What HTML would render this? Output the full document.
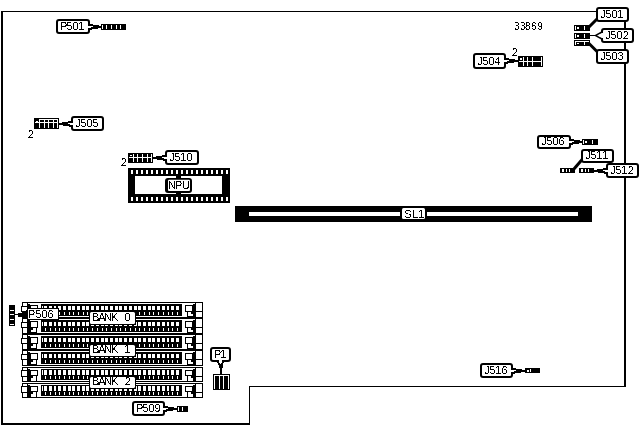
<!DOCTYPE html>
<html lang="en">
<head>
<meta charset="utf-8">
<title>Board layout 33869</title>
<style>
html,body{margin:0;padding:0;background:#fff;}
body{width:643px;height:425px;overflow:hidden;}
svg{display:block;shape-rendering:crispEdges;}
svg .aa{shape-rendering:geometricPrecision;}
svg text{font-family:"Liberation Sans",Arial,Helvetica,sans-serif;fill:#000;text-rendering:optimizeSpeed;}
svg text.s{letter-spacing:0;}
</style>
</head>
<body>
<svg width="643" height="425" viewBox="0 0 643 425">
<defs><filter id="bw" filterUnits="userSpaceOnUse" x="0" y="0" width="643" height="425" color-interpolation-filters="sRGB"><feComponentTransfer><feFuncA type="discrete" tableValues="0 1"/></feComponentTransfer></filter></defs>
<rect x="0" y="0" width="643" height="425" fill="#fff"/>
<rect x="1" y="11" width="625" height="1" fill="#000"/>
<rect x="1" y="11" width="2" height="414" fill="#000"/>
<rect x="1" y="423" width="249" height="2" fill="#000"/>
<rect x="249" y="386" width="1" height="39" fill="#000"/>
<rect x="249" y="386" width="377" height="1" fill="#000"/>
<rect x="624" y="11" width="2" height="376" fill="#000"/>
<rect class="aa" x="56" y="19" width="34" height="15" rx="3" ry="3" fill="#000"/>
<rect class="aa" x="58" y="21" width="30" height="11" rx="1" ry="1" fill="#fff"/>
<rect x="88" y="24" width="5" height="1" fill="#000"/>
<rect x="88" y="25" width="11" height="1" fill="#000"/>
<rect x="88" y="26" width="5" height="1" fill="#fff"/>
<rect x="93" y="26" width="8" height="1" fill="#000"/>
<rect x="88" y="27" width="3" height="1" fill="#fff"/>
<rect x="91" y="27" width="10" height="1" fill="#000"/>
<rect x="88" y="28" width="10" height="1" fill="#000"/>
<rect x="88" y="29" width="4" height="1" fill="#000"/>
<rect x="101" y="24" width="25" height="6" fill="#000"/>
<rect x="102" y="25" width="1" height="4" fill="#fff"/>
<rect x="106" y="25" width="1" height="4" fill="#fff"/>
<rect x="111" y="25" width="1" height="4" fill="#fff"/>
<rect x="116" y="25" width="1" height="4" fill="#fff"/>
<rect x="120" y="25" width="1" height="4" fill="#fff"/>
<rect x="34" y="118" width="25" height="11" fill="#000"/>
<rect x="39" y="119" width="1" height="9" fill="#fff"/>
<rect x="44" y="119" width="1" height="9" fill="#fff"/>
<rect x="48" y="119" width="1" height="9" fill="#fff"/>
<rect x="53" y="119" width="1" height="9" fill="#fff"/>
<rect x="57" y="119" width="1" height="9" fill="#fff"/>
<rect x="39" y="119" width="19" height="1" fill="#fff"/>
<rect x="35" y="122" width="23" height="1" fill="#fff"/>
<rect x="36" y="121" width="2" height="1" fill="#fff"/>
<rect class="aa" x="71" y="116" width="33" height="15" rx="3" ry="3" fill="#000"/>
<rect class="aa" x="73" y="118" width="29" height="11" rx="1" ry="1" fill="#fff"/>
<rect x="68" y="121" width="5" height="1" fill="#000"/>
<rect x="62" y="122" width="11" height="1" fill="#000"/>
<rect x="68" y="123" width="5" height="1" fill="#fff"/>
<rect x="59" y="123" width="9" height="1" fill="#000"/>
<rect x="70" y="124" width="3" height="1" fill="#fff"/>
<rect x="59" y="124" width="11" height="1" fill="#000"/>
<rect x="63" y="125" width="10" height="1" fill="#000"/>
<rect x="69" y="126" width="4" height="1" fill="#000"/>
<rect x="128" y="153" width="25" height="10" fill="#000"/>
<rect x="133" y="154" width="1" height="8" fill="#fff"/>
<rect x="137" y="154" width="1" height="8" fill="#fff"/>
<rect x="142" y="154" width="1" height="8" fill="#fff"/>
<rect x="147" y="154" width="1" height="8" fill="#fff"/>
<rect x="151" y="154" width="1" height="8" fill="#fff"/>
<rect x="129" y="157" width="23" height="1" fill="#fff"/>
<rect x="130" y="155" width="2" height="1" fill="#fff"/>
<rect class="aa" x="165" y="150" width="34" height="15" rx="3" ry="3" fill="#000"/>
<rect class="aa" x="167" y="152" width="30" height="11" rx="1" ry="1" fill="#fff"/>
<rect x="162" y="155" width="5" height="1" fill="#000"/>
<rect x="156" y="156" width="11" height="1" fill="#000"/>
<rect x="162" y="157" width="5" height="1" fill="#fff"/>
<rect x="153" y="157" width="9" height="1" fill="#000"/>
<rect x="164" y="158" width="3" height="1" fill="#fff"/>
<rect x="153" y="158" width="11" height="1" fill="#000"/>
<rect x="157" y="159" width="10" height="1" fill="#000"/>
<rect x="163" y="160" width="4" height="1" fill="#000"/>
<rect class="aa" x="473" y="53" width="33" height="16" rx="3" ry="3" fill="#000"/>
<rect class="aa" x="475" y="55" width="29" height="12" rx="1" ry="1" fill="#fff"/>
<rect x="504" y="58" width="5" height="1" fill="#000"/>
<rect x="504" y="59" width="11" height="1" fill="#000"/>
<rect x="504" y="60" width="5" height="1" fill="#fff"/>
<rect x="509" y="60" width="9" height="1" fill="#000"/>
<rect x="504" y="61" width="3" height="1" fill="#fff"/>
<rect x="507" y="61" width="11" height="1" fill="#000"/>
<rect x="504" y="62" width="10" height="1" fill="#000"/>
<rect x="504" y="63" width="4" height="1" fill="#000"/>
<rect x="518" y="56" width="25" height="11" fill="#000"/>
<rect x="523" y="57" width="1" height="9" fill="#fff"/>
<rect x="527" y="57" width="1" height="9" fill="#fff"/>
<rect x="532" y="57" width="1" height="9" fill="#fff"/>
<rect x="541" y="57" width="1" height="9" fill="#fff"/>
<rect x="519" y="61" width="23" height="1" fill="#fff"/>
<rect x="520" y="58" width="2" height="2" fill="#fff"/>
<rect x="574" y="25" width="16" height="6" fill="#000"/>
<rect x="575" y="26" width="1" height="4" fill="#fff"/>
<rect x="577" y="27" width="2" height="2" fill="#fff"/>
<rect x="584" y="26" width="1" height="4" fill="#fff"/>
<rect x="574" y="33" width="16" height="6" fill="#000"/>
<rect x="575" y="34" width="1" height="4" fill="#fff"/>
<rect x="577" y="35" width="2" height="2" fill="#fff"/>
<rect x="584" y="34" width="1" height="4" fill="#fff"/>
<rect x="574" y="40" width="16" height="6" fill="#000"/>
<rect x="575" y="41" width="14" height="1" fill="#fff"/>
<rect x="575" y="41" width="1" height="4" fill="#fff"/>
<rect x="577" y="43" width="2" height="1" fill="#fff"/>
<rect x="584" y="42" width="1" height="3" fill="#fff"/>
<path class="aa" d="M588.5 27.5 L597 19" stroke="#000" stroke-width="3" fill="none"/>
<path class="aa" d="M588.5 43 L597 51.5" stroke="#000" stroke-width="3" fill="none"/>
<rect class="aa" x="596" y="7" width="33" height="15" rx="3" ry="3" fill="#000"/>
<rect class="aa" x="598" y="9" width="29" height="11" rx="1" ry="1" fill="#fff"/>
<rect class="aa" x="596" y="49" width="33" height="15" rx="3" ry="3" fill="#000"/>
<rect class="aa" x="598" y="51" width="29" height="11" rx="1" ry="1" fill="#fff"/>
<rect class="aa" x="601" y="28" width="33" height="15" rx="3" ry="3" fill="#000"/>
<rect class="aa" x="603" y="30" width="29" height="11" rx="1" ry="1" fill="#fff"/>
<rect x="601" y="33" width="3" height="5" fill="#fff"/>
<rect x="590" y="35" width="6" height="1" fill="#000"/>
<path class="aa" d="M594 35.5 L602 31 L602 33 L597 35.5 L602 38 L602 40 Z" fill="#000"/>
<path class="aa" d="M597.6 35.5 L603 32.9 L603 38.1 Z" fill="#fff"/>
<rect class="aa" x="537" y="135" width="34" height="14" rx="3" ry="3" fill="#000"/>
<rect class="aa" x="539" y="137" width="30" height="10" rx="1" ry="1" fill="#fff"/>
<rect x="569" y="139" width="5" height="1" fill="#000"/>
<rect x="569" y="140" width="11" height="1" fill="#000"/>
<rect x="569" y="141" width="5" height="1" fill="#fff"/>
<rect x="574" y="141" width="8" height="1" fill="#000"/>
<rect x="569" y="142" width="3" height="1" fill="#fff"/>
<rect x="572" y="142" width="10" height="1" fill="#000"/>
<rect x="569" y="143" width="10" height="1" fill="#000"/>
<rect x="569" y="144" width="4" height="1" fill="#000"/>
<rect x="582" y="139" width="16" height="6" fill="#000"/>
<rect x="583" y="140" width="1" height="4" fill="#fff"/>
<rect x="585" y="141" width="2" height="2" fill="#fff"/>
<rect x="592" y="140" width="1" height="4" fill="#fff"/>
<rect x="560" y="168" width="15" height="5" fill="#000"/>
<rect x="562" y="169" width="2" height="3" fill="#fff"/>
<rect x="566" y="169" width="1" height="3" fill="#fff"/>
<rect x="569" y="169" width="1" height="3" fill="#fff"/>
<rect x="579" y="168" width="15" height="5" fill="#000"/>
<rect x="581" y="169" width="2" height="3" fill="#fff"/>
<rect x="585" y="169" width="1" height="3" fill="#fff"/>
<rect x="588" y="169" width="1" height="3" fill="#fff"/>
<path class="aa" d="M573.5 169.5 L583 158.5" stroke="#000" stroke-width="3" fill="none"/>
<rect class="aa" x="581" y="149" width="33" height="14" rx="3" ry="3" fill="#000"/>
<rect class="aa" x="583" y="151" width="29" height="10" rx="1" ry="1" fill="#fff"/>
<rect class="aa" x="606" y="163" width="33" height="15" rx="3" ry="3" fill="#000"/>
<rect class="aa" x="608" y="165" width="29" height="11" rx="1" ry="1" fill="#fff"/>
<rect x="603" y="168" width="5" height="1" fill="#000"/>
<rect x="597" y="169" width="11" height="1" fill="#000"/>
<rect x="603" y="170" width="5" height="1" fill="#fff"/>
<rect x="594" y="170" width="9" height="1" fill="#000"/>
<rect x="605" y="171" width="3" height="1" fill="#fff"/>
<rect x="594" y="171" width="11" height="1" fill="#000"/>
<rect x="598" y="172" width="10" height="1" fill="#000"/>
<rect x="604" y="173" width="4" height="1" fill="#000"/>
<rect x="128" y="168" width="102" height="35" fill="#000"/>
<rect x="135" y="176" width="87" height="18" fill="#fff"/>
<rect x="130.6" y="170" width="2.6" height="4" fill="#fff"/>
<rect x="130.6" y="197" width="2.6" height="4" fill="#fff"/>
<rect x="135.6" y="170" width="2.6" height="4" fill="#fff"/>
<rect x="135.6" y="197" width="2.6" height="4" fill="#fff"/>
<rect x="140.6" y="170" width="2.6" height="4" fill="#fff"/>
<rect x="140.6" y="197" width="2.6" height="4" fill="#fff"/>
<rect x="145.6" y="170" width="2.6" height="4" fill="#fff"/>
<rect x="145.6" y="197" width="2.6" height="4" fill="#fff"/>
<rect x="150.6" y="170" width="2.6" height="4" fill="#fff"/>
<rect x="150.6" y="197" width="2.6" height="4" fill="#fff"/>
<rect x="155.6" y="170" width="2.6" height="4" fill="#fff"/>
<rect x="155.6" y="197" width="2.6" height="4" fill="#fff"/>
<rect x="160.6" y="170" width="2.6" height="4" fill="#fff"/>
<rect x="160.6" y="197" width="2.6" height="4" fill="#fff"/>
<rect x="165.6" y="170" width="2.6" height="4" fill="#fff"/>
<rect x="165.6" y="197" width="2.6" height="4" fill="#fff"/>
<rect x="170.6" y="170" width="2.6" height="4" fill="#fff"/>
<rect x="170.6" y="197" width="2.6" height="4" fill="#fff"/>
<rect x="175.6" y="170" width="2.6" height="4" fill="#fff"/>
<rect x="175.6" y="197" width="2.6" height="4" fill="#fff"/>
<rect x="180.6" y="170" width="2.6" height="4" fill="#fff"/>
<rect x="180.6" y="197" width="2.6" height="4" fill="#fff"/>
<rect x="185.6" y="170" width="2.6" height="4" fill="#fff"/>
<rect x="185.6" y="197" width="2.6" height="4" fill="#fff"/>
<rect x="190.6" y="170" width="2.6" height="4" fill="#fff"/>
<rect x="190.6" y="197" width="2.6" height="4" fill="#fff"/>
<rect x="195.6" y="170" width="2.6" height="4" fill="#fff"/>
<rect x="195.6" y="197" width="2.6" height="4" fill="#fff"/>
<rect x="200.6" y="170" width="2.6" height="4" fill="#fff"/>
<rect x="200.6" y="197" width="2.6" height="4" fill="#fff"/>
<rect x="205.6" y="170" width="2.6" height="4" fill="#fff"/>
<rect x="205.6" y="197" width="2.6" height="4" fill="#fff"/>
<rect x="210.6" y="170" width="2.6" height="4" fill="#fff"/>
<rect x="210.6" y="197" width="2.6" height="4" fill="#fff"/>
<rect x="215.6" y="170" width="2.6" height="4" fill="#fff"/>
<rect x="215.6" y="197" width="2.6" height="4" fill="#fff"/>
<rect x="220.6" y="170" width="2.6" height="4" fill="#fff"/>
<rect x="220.6" y="197" width="2.6" height="4" fill="#fff"/>
<rect x="225.6" y="170" width="2.6" height="4" fill="#fff"/>
<rect x="225.6" y="197" width="2.6" height="4" fill="#fff"/>
<rect x="176" y="174" width="5" height="23" fill="#000"/>
<rect class="aa" x="165" y="178" width="27" height="15" rx="3" fill="#000"/>
<rect class="aa" x="168" y="179.7" width="22" height="11.3" rx="1" fill="#fff"/>
<rect x="235" y="206" width="357" height="16" fill="#000"/>
<rect x="249" y="212" width="329" height="4" fill="#fff"/>
<rect x="400" y="207" width="27" height="14" fill="#000"/>
<rect class="aa" x="402" y="208" width="23" height="11" rx="1.5" fill="#fff"/>
<rect x="22" y="302" width="181" height="1" fill="#000"/>
<rect x="22" y="317" width="181" height="1" fill="#000"/>
<rect x="22" y="302" width="1" height="16" fill="#000"/>
<rect x="202" y="302" width="1" height="16" fill="#000"/>
<rect x="27" y="302" width="3" height="16" fill="#000"/>
<rect x="28" y="303" width="2" height="1" fill="#fff"/>
<rect x="21" y="306" width="7" height="1" fill="#000"/>
<rect x="21" y="311" width="7" height="1" fill="#000"/>
<rect x="21" y="306" width="1" height="6" fill="#000"/>
<rect x="22" y="307" width="1" height="4" fill="#fff"/>
<rect x="30" y="305" width="8" height="7" fill="#000"/>
<rect x="31" y="306" width="6" height="5" fill="#fff"/>
<rect x="30" y="311" width="7" height="6" fill="#000"/>
<rect x="33" y="312" width="3" height="2" fill="#fff"/>
<rect x="31" y="314" width="5" height="2" fill="#fff"/>
<rect x="193" y="302" width="3" height="16" fill="#000"/>
<rect x="193" y="303" width="2" height="1" fill="#fff"/>
<rect x="195" y="311" width="8" height="1" fill="#000"/>
<rect x="185" y="305" width="8" height="7" fill="#000"/>
<rect x="186" y="306" width="6" height="5" fill="#fff"/>
<rect x="187" y="311" width="7" height="6" fill="#000"/>
<rect x="188" y="312" width="3" height="2" fill="#fff"/>
<rect x="188" y="314" width="5" height="2" fill="#fff"/>
<rect x="41" y="304" width="141" height="12" rx="1.5" ry="1.5" fill="#000"/>
<rect x="42" y="306" width="1" height="4" fill="#fff"/>
<rect x="44.1" y="306" width="2.9" height="4" fill="#fff"/>
<rect x="45" y="312" width="1" height="3" fill="#fff"/>
<rect x="48.8107" y="306" width="2.9" height="4" fill="#fff"/>
<rect x="50" y="312" width="1" height="3" fill="#fff"/>
<rect x="53.5214" y="306" width="2.9" height="4" fill="#fff"/>
<rect x="55" y="312" width="1" height="3" fill="#fff"/>
<rect x="58.2321" y="306" width="2.9" height="4" fill="#fff"/>
<rect x="59" y="312" width="1" height="3" fill="#fff"/>
<rect x="62.9429" y="306" width="2.9" height="4" fill="#fff"/>
<rect x="64" y="312" width="1" height="3" fill="#fff"/>
<rect x="67.6536" y="306" width="2.9" height="4" fill="#fff"/>
<rect x="69" y="312" width="1" height="3" fill="#fff"/>
<rect x="72.3643" y="306" width="2.9" height="4" fill="#fff"/>
<rect x="73" y="312" width="1" height="3" fill="#fff"/>
<rect x="77.075" y="306" width="2.9" height="4" fill="#fff"/>
<rect x="78" y="312" width="1" height="3" fill="#fff"/>
<rect x="81.7857" y="306" width="2.9" height="4" fill="#fff"/>
<rect x="83" y="312" width="1" height="3" fill="#fff"/>
<rect x="86.4964" y="306" width="2.9" height="4" fill="#fff"/>
<rect x="87" y="312" width="1" height="3" fill="#fff"/>
<rect x="91.2071" y="306" width="2.9" height="4" fill="#fff"/>
<rect x="92" y="312" width="1" height="3" fill="#fff"/>
<rect x="95.9179" y="306" width="2.9" height="4" fill="#fff"/>
<rect x="97" y="312" width="1" height="3" fill="#fff"/>
<rect x="100.629" y="306" width="2.9" height="4" fill="#fff"/>
<rect x="102" y="312" width="1" height="3" fill="#fff"/>
<rect x="105.339" y="306" width="2.9" height="4" fill="#fff"/>
<rect x="106" y="312" width="1" height="3" fill="#fff"/>
<rect x="110.05" y="306" width="2.9" height="4" fill="#fff"/>
<rect x="111" y="312" width="1" height="3" fill="#fff"/>
<rect x="114.761" y="306" width="2.9" height="4" fill="#fff"/>
<rect x="116" y="312" width="1" height="3" fill="#fff"/>
<rect x="119.471" y="306" width="2.9" height="4" fill="#fff"/>
<rect x="120" y="312" width="1" height="3" fill="#fff"/>
<rect x="124.182" y="306" width="2.9" height="4" fill="#fff"/>
<rect x="125" y="312" width="1" height="3" fill="#fff"/>
<rect x="128.893" y="306" width="2.9" height="4" fill="#fff"/>
<rect x="130" y="312" width="1" height="3" fill="#fff"/>
<rect x="133.604" y="306" width="2.9" height="4" fill="#fff"/>
<rect x="135" y="312" width="1" height="3" fill="#fff"/>
<rect x="138.314" y="306" width="2.9" height="4" fill="#fff"/>
<rect x="139" y="312" width="1" height="3" fill="#fff"/>
<rect x="143.025" y="306" width="2.9" height="4" fill="#fff"/>
<rect x="144" y="312" width="1" height="3" fill="#fff"/>
<rect x="147.736" y="306" width="2.9" height="4" fill="#fff"/>
<rect x="149" y="312" width="1" height="3" fill="#fff"/>
<rect x="152.446" y="306" width="2.9" height="4" fill="#fff"/>
<rect x="153" y="312" width="1" height="3" fill="#fff"/>
<rect x="157.157" y="306" width="2.9" height="4" fill="#fff"/>
<rect x="158" y="312" width="1" height="3" fill="#fff"/>
<rect x="161.868" y="306" width="2.9" height="4" fill="#fff"/>
<rect x="163" y="312" width="1" height="3" fill="#fff"/>
<rect x="166.579" y="306" width="2.9" height="4" fill="#fff"/>
<rect x="168" y="312" width="1" height="3" fill="#fff"/>
<rect x="171.289" y="306" width="2.9" height="4" fill="#fff"/>
<rect x="172" y="312" width="1" height="3" fill="#fff"/>
<rect x="176" y="306" width="2.9" height="4" fill="#fff"/>
<rect x="177" y="312" width="1" height="3" fill="#fff"/>
<rect x="22" y="318" width="181" height="1" fill="#000"/>
<rect x="22" y="333" width="181" height="1" fill="#000"/>
<rect x="22" y="318" width="1" height="16" fill="#000"/>
<rect x="202" y="318" width="1" height="16" fill="#000"/>
<rect x="27" y="318" width="3" height="16" fill="#000"/>
<rect x="28" y="319" width="2" height="1" fill="#fff"/>
<rect x="21" y="322" width="7" height="1" fill="#000"/>
<rect x="21" y="327" width="7" height="1" fill="#000"/>
<rect x="21" y="322" width="1" height="6" fill="#000"/>
<rect x="22" y="323" width="1" height="4" fill="#fff"/>
<rect x="30" y="321" width="8" height="7" fill="#000"/>
<rect x="31" y="322" width="6" height="5" fill="#fff"/>
<rect x="30" y="327" width="7" height="6" fill="#000"/>
<rect x="33" y="328" width="3" height="2" fill="#fff"/>
<rect x="31" y="330" width="5" height="2" fill="#fff"/>
<rect x="193" y="318" width="3" height="16" fill="#000"/>
<rect x="193" y="319" width="2" height="1" fill="#fff"/>
<rect x="195" y="327" width="8" height="1" fill="#000"/>
<rect x="185" y="321" width="8" height="7" fill="#000"/>
<rect x="186" y="322" width="6" height="5" fill="#fff"/>
<rect x="187" y="327" width="7" height="6" fill="#000"/>
<rect x="188" y="328" width="3" height="2" fill="#fff"/>
<rect x="188" y="330" width="5" height="2" fill="#fff"/>
<rect x="41" y="320" width="141" height="12" rx="1.5" ry="1.5" fill="#000"/>
<rect x="42" y="322" width="1" height="4" fill="#fff"/>
<rect x="44.1" y="322" width="2.9" height="4" fill="#fff"/>
<rect x="45" y="328" width="1" height="3" fill="#fff"/>
<rect x="48.8107" y="322" width="2.9" height="4" fill="#fff"/>
<rect x="50" y="328" width="1" height="3" fill="#fff"/>
<rect x="53.5214" y="322" width="2.9" height="4" fill="#fff"/>
<rect x="55" y="328" width="1" height="3" fill="#fff"/>
<rect x="58.2321" y="322" width="2.9" height="4" fill="#fff"/>
<rect x="59" y="328" width="1" height="3" fill="#fff"/>
<rect x="62.9429" y="322" width="2.9" height="4" fill="#fff"/>
<rect x="64" y="328" width="1" height="3" fill="#fff"/>
<rect x="67.6536" y="322" width="2.9" height="4" fill="#fff"/>
<rect x="69" y="328" width="1" height="3" fill="#fff"/>
<rect x="72.3643" y="322" width="2.9" height="4" fill="#fff"/>
<rect x="73" y="328" width="1" height="3" fill="#fff"/>
<rect x="77.075" y="322" width="2.9" height="4" fill="#fff"/>
<rect x="78" y="328" width="1" height="3" fill="#fff"/>
<rect x="81.7857" y="322" width="2.9" height="4" fill="#fff"/>
<rect x="83" y="328" width="1" height="3" fill="#fff"/>
<rect x="86.4964" y="322" width="2.9" height="4" fill="#fff"/>
<rect x="87" y="328" width="1" height="3" fill="#fff"/>
<rect x="91.2071" y="322" width="2.9" height="4" fill="#fff"/>
<rect x="92" y="328" width="1" height="3" fill="#fff"/>
<rect x="95.9179" y="322" width="2.9" height="4" fill="#fff"/>
<rect x="97" y="328" width="1" height="3" fill="#fff"/>
<rect x="100.629" y="322" width="2.9" height="4" fill="#fff"/>
<rect x="102" y="328" width="1" height="3" fill="#fff"/>
<rect x="105.339" y="322" width="2.9" height="4" fill="#fff"/>
<rect x="106" y="328" width="1" height="3" fill="#fff"/>
<rect x="110.05" y="322" width="2.9" height="4" fill="#fff"/>
<rect x="111" y="328" width="1" height="3" fill="#fff"/>
<rect x="114.761" y="322" width="2.9" height="4" fill="#fff"/>
<rect x="116" y="328" width="1" height="3" fill="#fff"/>
<rect x="119.471" y="322" width="2.9" height="4" fill="#fff"/>
<rect x="120" y="328" width="1" height="3" fill="#fff"/>
<rect x="124.182" y="322" width="2.9" height="4" fill="#fff"/>
<rect x="125" y="328" width="1" height="3" fill="#fff"/>
<rect x="128.893" y="322" width="2.9" height="4" fill="#fff"/>
<rect x="130" y="328" width="1" height="3" fill="#fff"/>
<rect x="133.604" y="322" width="2.9" height="4" fill="#fff"/>
<rect x="135" y="328" width="1" height="3" fill="#fff"/>
<rect x="138.314" y="322" width="2.9" height="4" fill="#fff"/>
<rect x="139" y="328" width="1" height="3" fill="#fff"/>
<rect x="143.025" y="322" width="2.9" height="4" fill="#fff"/>
<rect x="144" y="328" width="1" height="3" fill="#fff"/>
<rect x="147.736" y="322" width="2.9" height="4" fill="#fff"/>
<rect x="149" y="328" width="1" height="3" fill="#fff"/>
<rect x="152.446" y="322" width="2.9" height="4" fill="#fff"/>
<rect x="153" y="328" width="1" height="3" fill="#fff"/>
<rect x="157.157" y="322" width="2.9" height="4" fill="#fff"/>
<rect x="158" y="328" width="1" height="3" fill="#fff"/>
<rect x="161.868" y="322" width="2.9" height="4" fill="#fff"/>
<rect x="163" y="328" width="1" height="3" fill="#fff"/>
<rect x="166.579" y="322" width="2.9" height="4" fill="#fff"/>
<rect x="168" y="328" width="1" height="3" fill="#fff"/>
<rect x="171.289" y="322" width="2.9" height="4" fill="#fff"/>
<rect x="172" y="328" width="1" height="3" fill="#fff"/>
<rect x="176" y="322" width="2.9" height="4" fill="#fff"/>
<rect x="177" y="328" width="1" height="3" fill="#fff"/>
<rect x="22" y="334" width="181" height="1" fill="#000"/>
<rect x="22" y="349" width="181" height="1" fill="#000"/>
<rect x="22" y="334" width="1" height="16" fill="#000"/>
<rect x="202" y="334" width="1" height="16" fill="#000"/>
<rect x="27" y="334" width="3" height="16" fill="#000"/>
<rect x="28" y="335" width="2" height="1" fill="#fff"/>
<rect x="21" y="338" width="7" height="1" fill="#000"/>
<rect x="21" y="343" width="7" height="1" fill="#000"/>
<rect x="21" y="338" width="1" height="6" fill="#000"/>
<rect x="22" y="339" width="1" height="4" fill="#fff"/>
<rect x="30" y="337" width="8" height="7" fill="#000"/>
<rect x="31" y="338" width="6" height="5" fill="#fff"/>
<rect x="30" y="343" width="7" height="6" fill="#000"/>
<rect x="33" y="344" width="3" height="2" fill="#fff"/>
<rect x="31" y="346" width="5" height="2" fill="#fff"/>
<rect x="193" y="334" width="3" height="16" fill="#000"/>
<rect x="193" y="335" width="2" height="1" fill="#fff"/>
<rect x="195" y="343" width="8" height="1" fill="#000"/>
<rect x="185" y="337" width="8" height="7" fill="#000"/>
<rect x="186" y="338" width="6" height="5" fill="#fff"/>
<rect x="187" y="343" width="7" height="6" fill="#000"/>
<rect x="188" y="344" width="3" height="2" fill="#fff"/>
<rect x="188" y="346" width="5" height="2" fill="#fff"/>
<rect x="41" y="336" width="141" height="12" rx="1.5" ry="1.5" fill="#000"/>
<rect x="42" y="338" width="1" height="4" fill="#fff"/>
<rect x="44.1" y="338" width="2.9" height="4" fill="#fff"/>
<rect x="45" y="344" width="1" height="3" fill="#fff"/>
<rect x="48.8107" y="338" width="2.9" height="4" fill="#fff"/>
<rect x="50" y="344" width="1" height="3" fill="#fff"/>
<rect x="53.5214" y="338" width="2.9" height="4" fill="#fff"/>
<rect x="55" y="344" width="1" height="3" fill="#fff"/>
<rect x="58.2321" y="338" width="2.9" height="4" fill="#fff"/>
<rect x="59" y="344" width="1" height="3" fill="#fff"/>
<rect x="62.9429" y="338" width="2.9" height="4" fill="#fff"/>
<rect x="64" y="344" width="1" height="3" fill="#fff"/>
<rect x="67.6536" y="338" width="2.9" height="4" fill="#fff"/>
<rect x="69" y="344" width="1" height="3" fill="#fff"/>
<rect x="72.3643" y="338" width="2.9" height="4" fill="#fff"/>
<rect x="73" y="344" width="1" height="3" fill="#fff"/>
<rect x="77.075" y="338" width="2.9" height="4" fill="#fff"/>
<rect x="78" y="344" width="1" height="3" fill="#fff"/>
<rect x="81.7857" y="338" width="2.9" height="4" fill="#fff"/>
<rect x="83" y="344" width="1" height="3" fill="#fff"/>
<rect x="86.4964" y="338" width="2.9" height="4" fill="#fff"/>
<rect x="87" y="344" width="1" height="3" fill="#fff"/>
<rect x="91.2071" y="338" width="2.9" height="4" fill="#fff"/>
<rect x="92" y="344" width="1" height="3" fill="#fff"/>
<rect x="95.9179" y="338" width="2.9" height="4" fill="#fff"/>
<rect x="97" y="344" width="1" height="3" fill="#fff"/>
<rect x="100.629" y="338" width="2.9" height="4" fill="#fff"/>
<rect x="102" y="344" width="1" height="3" fill="#fff"/>
<rect x="105.339" y="338" width="2.9" height="4" fill="#fff"/>
<rect x="106" y="344" width="1" height="3" fill="#fff"/>
<rect x="110.05" y="338" width="2.9" height="4" fill="#fff"/>
<rect x="111" y="344" width="1" height="3" fill="#fff"/>
<rect x="114.761" y="338" width="2.9" height="4" fill="#fff"/>
<rect x="116" y="344" width="1" height="3" fill="#fff"/>
<rect x="119.471" y="338" width="2.9" height="4" fill="#fff"/>
<rect x="120" y="344" width="1" height="3" fill="#fff"/>
<rect x="124.182" y="338" width="2.9" height="4" fill="#fff"/>
<rect x="125" y="344" width="1" height="3" fill="#fff"/>
<rect x="128.893" y="338" width="2.9" height="4" fill="#fff"/>
<rect x="130" y="344" width="1" height="3" fill="#fff"/>
<rect x="133.604" y="338" width="2.9" height="4" fill="#fff"/>
<rect x="135" y="344" width="1" height="3" fill="#fff"/>
<rect x="138.314" y="338" width="2.9" height="4" fill="#fff"/>
<rect x="139" y="344" width="1" height="3" fill="#fff"/>
<rect x="143.025" y="338" width="2.9" height="4" fill="#fff"/>
<rect x="144" y="344" width="1" height="3" fill="#fff"/>
<rect x="147.736" y="338" width="2.9" height="4" fill="#fff"/>
<rect x="149" y="344" width="1" height="3" fill="#fff"/>
<rect x="152.446" y="338" width="2.9" height="4" fill="#fff"/>
<rect x="153" y="344" width="1" height="3" fill="#fff"/>
<rect x="157.157" y="338" width="2.9" height="4" fill="#fff"/>
<rect x="158" y="344" width="1" height="3" fill="#fff"/>
<rect x="161.868" y="338" width="2.9" height="4" fill="#fff"/>
<rect x="163" y="344" width="1" height="3" fill="#fff"/>
<rect x="166.579" y="338" width="2.9" height="4" fill="#fff"/>
<rect x="168" y="344" width="1" height="3" fill="#fff"/>
<rect x="171.289" y="338" width="2.9" height="4" fill="#fff"/>
<rect x="172" y="344" width="1" height="3" fill="#fff"/>
<rect x="176" y="338" width="2.9" height="4" fill="#fff"/>
<rect x="177" y="344" width="1" height="3" fill="#fff"/>
<rect x="22" y="350" width="181" height="1" fill="#000"/>
<rect x="22" y="365" width="181" height="1" fill="#000"/>
<rect x="22" y="350" width="1" height="16" fill="#000"/>
<rect x="202" y="350" width="1" height="16" fill="#000"/>
<rect x="27" y="350" width="3" height="16" fill="#000"/>
<rect x="28" y="351" width="2" height="1" fill="#fff"/>
<rect x="21" y="354" width="7" height="1" fill="#000"/>
<rect x="21" y="359" width="7" height="1" fill="#000"/>
<rect x="21" y="354" width="1" height="6" fill="#000"/>
<rect x="22" y="355" width="1" height="4" fill="#fff"/>
<rect x="30" y="353" width="8" height="7" fill="#000"/>
<rect x="31" y="354" width="6" height="5" fill="#fff"/>
<rect x="30" y="359" width="7" height="6" fill="#000"/>
<rect x="33" y="360" width="3" height="2" fill="#fff"/>
<rect x="31" y="362" width="5" height="2" fill="#fff"/>
<rect x="193" y="350" width="3" height="16" fill="#000"/>
<rect x="193" y="351" width="2" height="1" fill="#fff"/>
<rect x="195" y="359" width="8" height="1" fill="#000"/>
<rect x="185" y="353" width="8" height="7" fill="#000"/>
<rect x="186" y="354" width="6" height="5" fill="#fff"/>
<rect x="187" y="359" width="7" height="6" fill="#000"/>
<rect x="188" y="360" width="3" height="2" fill="#fff"/>
<rect x="188" y="362" width="5" height="2" fill="#fff"/>
<rect x="41" y="352" width="141" height="12" rx="1.5" ry="1.5" fill="#000"/>
<rect x="42" y="354" width="1" height="4" fill="#fff"/>
<rect x="44.1" y="354" width="2.9" height="4" fill="#fff"/>
<rect x="45" y="360" width="1" height="3" fill="#fff"/>
<rect x="48.8107" y="354" width="2.9" height="4" fill="#fff"/>
<rect x="50" y="360" width="1" height="3" fill="#fff"/>
<rect x="53.5214" y="354" width="2.9" height="4" fill="#fff"/>
<rect x="55" y="360" width="1" height="3" fill="#fff"/>
<rect x="58.2321" y="354" width="2.9" height="4" fill="#fff"/>
<rect x="59" y="360" width="1" height="3" fill="#fff"/>
<rect x="62.9429" y="354" width="2.9" height="4" fill="#fff"/>
<rect x="64" y="360" width="1" height="3" fill="#fff"/>
<rect x="67.6536" y="354" width="2.9" height="4" fill="#fff"/>
<rect x="69" y="360" width="1" height="3" fill="#fff"/>
<rect x="72.3643" y="354" width="2.9" height="4" fill="#fff"/>
<rect x="73" y="360" width="1" height="3" fill="#fff"/>
<rect x="77.075" y="354" width="2.9" height="4" fill="#fff"/>
<rect x="78" y="360" width="1" height="3" fill="#fff"/>
<rect x="81.7857" y="354" width="2.9" height="4" fill="#fff"/>
<rect x="83" y="360" width="1" height="3" fill="#fff"/>
<rect x="86.4964" y="354" width="2.9" height="4" fill="#fff"/>
<rect x="87" y="360" width="1" height="3" fill="#fff"/>
<rect x="91.2071" y="354" width="2.9" height="4" fill="#fff"/>
<rect x="92" y="360" width="1" height="3" fill="#fff"/>
<rect x="95.9179" y="354" width="2.9" height="4" fill="#fff"/>
<rect x="97" y="360" width="1" height="3" fill="#fff"/>
<rect x="100.629" y="354" width="2.9" height="4" fill="#fff"/>
<rect x="102" y="360" width="1" height="3" fill="#fff"/>
<rect x="105.339" y="354" width="2.9" height="4" fill="#fff"/>
<rect x="106" y="360" width="1" height="3" fill="#fff"/>
<rect x="110.05" y="354" width="2.9" height="4" fill="#fff"/>
<rect x="111" y="360" width="1" height="3" fill="#fff"/>
<rect x="114.761" y="354" width="2.9" height="4" fill="#fff"/>
<rect x="116" y="360" width="1" height="3" fill="#fff"/>
<rect x="119.471" y="354" width="2.9" height="4" fill="#fff"/>
<rect x="120" y="360" width="1" height="3" fill="#fff"/>
<rect x="124.182" y="354" width="2.9" height="4" fill="#fff"/>
<rect x="125" y="360" width="1" height="3" fill="#fff"/>
<rect x="128.893" y="354" width="2.9" height="4" fill="#fff"/>
<rect x="130" y="360" width="1" height="3" fill="#fff"/>
<rect x="133.604" y="354" width="2.9" height="4" fill="#fff"/>
<rect x="135" y="360" width="1" height="3" fill="#fff"/>
<rect x="138.314" y="354" width="2.9" height="4" fill="#fff"/>
<rect x="139" y="360" width="1" height="3" fill="#fff"/>
<rect x="143.025" y="354" width="2.9" height="4" fill="#fff"/>
<rect x="144" y="360" width="1" height="3" fill="#fff"/>
<rect x="147.736" y="354" width="2.9" height="4" fill="#fff"/>
<rect x="149" y="360" width="1" height="3" fill="#fff"/>
<rect x="152.446" y="354" width="2.9" height="4" fill="#fff"/>
<rect x="153" y="360" width="1" height="3" fill="#fff"/>
<rect x="157.157" y="354" width="2.9" height="4" fill="#fff"/>
<rect x="158" y="360" width="1" height="3" fill="#fff"/>
<rect x="161.868" y="354" width="2.9" height="4" fill="#fff"/>
<rect x="163" y="360" width="1" height="3" fill="#fff"/>
<rect x="166.579" y="354" width="2.9" height="4" fill="#fff"/>
<rect x="168" y="360" width="1" height="3" fill="#fff"/>
<rect x="171.289" y="354" width="2.9" height="4" fill="#fff"/>
<rect x="172" y="360" width="1" height="3" fill="#fff"/>
<rect x="176" y="354" width="2.9" height="4" fill="#fff"/>
<rect x="177" y="360" width="1" height="3" fill="#fff"/>
<rect x="22" y="367" width="181" height="1" fill="#000"/>
<rect x="22" y="381" width="181" height="1" fill="#000"/>
<rect x="22" y="367" width="1" height="15" fill="#000"/>
<rect x="202" y="367" width="1" height="15" fill="#000"/>
<rect x="27" y="367" width="3" height="15" fill="#000"/>
<rect x="28" y="368" width="2" height="1" fill="#fff"/>
<rect x="21" y="370" width="7" height="1" fill="#000"/>
<rect x="21" y="376" width="7" height="1" fill="#000"/>
<rect x="21" y="370" width="1" height="7" fill="#000"/>
<rect x="22" y="371" width="1" height="5" fill="#fff"/>
<rect x="30" y="370" width="8" height="6" fill="#000"/>
<rect x="31" y="371" width="6" height="4" fill="#fff"/>
<rect x="30" y="375" width="7" height="7" fill="#000"/>
<rect x="33" y="376" width="3" height="2" fill="#fff"/>
<rect x="31" y="378" width="5" height="3" fill="#fff"/>
<rect x="193" y="367" width="3" height="15" fill="#000"/>
<rect x="193" y="368" width="2" height="1" fill="#fff"/>
<rect x="195" y="376" width="8" height="1" fill="#000"/>
<rect x="185" y="370" width="8" height="6" fill="#000"/>
<rect x="186" y="371" width="6" height="4" fill="#fff"/>
<rect x="187" y="375" width="7" height="7" fill="#000"/>
<rect x="188" y="376" width="3" height="2" fill="#fff"/>
<rect x="188" y="378" width="5" height="3" fill="#fff"/>
<rect x="41" y="369" width="141" height="11" rx="1.5" ry="1.5" fill="#000"/>
<rect x="42" y="370" width="1" height="5" fill="#fff"/>
<rect x="44.1" y="370" width="2.9" height="5" fill="#fff"/>
<rect x="45" y="376" width="1" height="3" fill="#fff"/>
<rect x="48.8107" y="370" width="2.9" height="5" fill="#fff"/>
<rect x="50" y="376" width="1" height="3" fill="#fff"/>
<rect x="53.5214" y="370" width="2.9" height="5" fill="#fff"/>
<rect x="55" y="376" width="1" height="3" fill="#fff"/>
<rect x="58.2321" y="370" width="2.9" height="5" fill="#fff"/>
<rect x="59" y="376" width="1" height="3" fill="#fff"/>
<rect x="62.9429" y="370" width="2.9" height="5" fill="#fff"/>
<rect x="64" y="376" width="1" height="3" fill="#fff"/>
<rect x="67.6536" y="370" width="2.9" height="5" fill="#fff"/>
<rect x="69" y="376" width="1" height="3" fill="#fff"/>
<rect x="72.3643" y="370" width="2.9" height="5" fill="#fff"/>
<rect x="73" y="376" width="1" height="3" fill="#fff"/>
<rect x="77.075" y="370" width="2.9" height="5" fill="#fff"/>
<rect x="78" y="376" width="1" height="3" fill="#fff"/>
<rect x="81.7857" y="370" width="2.9" height="5" fill="#fff"/>
<rect x="83" y="376" width="1" height="3" fill="#fff"/>
<rect x="86.4964" y="370" width="2.9" height="5" fill="#fff"/>
<rect x="87" y="376" width="1" height="3" fill="#fff"/>
<rect x="91.2071" y="370" width="2.9" height="5" fill="#fff"/>
<rect x="92" y="376" width="1" height="3" fill="#fff"/>
<rect x="95.9179" y="370" width="2.9" height="5" fill="#fff"/>
<rect x="97" y="376" width="1" height="3" fill="#fff"/>
<rect x="100.629" y="370" width="2.9" height="5" fill="#fff"/>
<rect x="102" y="376" width="1" height="3" fill="#fff"/>
<rect x="105.339" y="370" width="2.9" height="5" fill="#fff"/>
<rect x="106" y="376" width="1" height="3" fill="#fff"/>
<rect x="110.05" y="370" width="2.9" height="5" fill="#fff"/>
<rect x="111" y="376" width="1" height="3" fill="#fff"/>
<rect x="114.761" y="370" width="2.9" height="5" fill="#fff"/>
<rect x="116" y="376" width="1" height="3" fill="#fff"/>
<rect x="119.471" y="370" width="2.9" height="5" fill="#fff"/>
<rect x="120" y="376" width="1" height="3" fill="#fff"/>
<rect x="124.182" y="370" width="2.9" height="5" fill="#fff"/>
<rect x="125" y="376" width="1" height="3" fill="#fff"/>
<rect x="128.893" y="370" width="2.9" height="5" fill="#fff"/>
<rect x="130" y="376" width="1" height="3" fill="#fff"/>
<rect x="133.604" y="370" width="2.9" height="5" fill="#fff"/>
<rect x="135" y="376" width="1" height="3" fill="#fff"/>
<rect x="138.314" y="370" width="2.9" height="5" fill="#fff"/>
<rect x="139" y="376" width="1" height="3" fill="#fff"/>
<rect x="143.025" y="370" width="2.9" height="5" fill="#fff"/>
<rect x="144" y="376" width="1" height="3" fill="#fff"/>
<rect x="147.736" y="370" width="2.9" height="5" fill="#fff"/>
<rect x="149" y="376" width="1" height="3" fill="#fff"/>
<rect x="152.446" y="370" width="2.9" height="5" fill="#fff"/>
<rect x="153" y="376" width="1" height="3" fill="#fff"/>
<rect x="157.157" y="370" width="2.9" height="5" fill="#fff"/>
<rect x="158" y="376" width="1" height="3" fill="#fff"/>
<rect x="161.868" y="370" width="2.9" height="5" fill="#fff"/>
<rect x="163" y="376" width="1" height="3" fill="#fff"/>
<rect x="166.579" y="370" width="2.9" height="5" fill="#fff"/>
<rect x="168" y="376" width="1" height="3" fill="#fff"/>
<rect x="171.289" y="370" width="2.9" height="5" fill="#fff"/>
<rect x="172" y="376" width="1" height="3" fill="#fff"/>
<rect x="176" y="370" width="2.9" height="5" fill="#fff"/>
<rect x="177" y="376" width="1" height="3" fill="#fff"/>
<rect x="22" y="383" width="181" height="1" fill="#000"/>
<rect x="22" y="397" width="181" height="1" fill="#000"/>
<rect x="22" y="383" width="1" height="15" fill="#000"/>
<rect x="202" y="383" width="1" height="15" fill="#000"/>
<rect x="27" y="383" width="3" height="15" fill="#000"/>
<rect x="28" y="384" width="2" height="1" fill="#fff"/>
<rect x="21" y="386" width="7" height="1" fill="#000"/>
<rect x="21" y="392" width="7" height="1" fill="#000"/>
<rect x="21" y="386" width="1" height="7" fill="#000"/>
<rect x="22" y="387" width="1" height="5" fill="#fff"/>
<rect x="30" y="386" width="8" height="6" fill="#000"/>
<rect x="31" y="387" width="6" height="4" fill="#fff"/>
<rect x="30" y="391" width="7" height="7" fill="#000"/>
<rect x="33" y="392" width="3" height="2" fill="#fff"/>
<rect x="31" y="394" width="5" height="3" fill="#fff"/>
<rect x="193" y="383" width="3" height="15" fill="#000"/>
<rect x="193" y="384" width="2" height="1" fill="#fff"/>
<rect x="195" y="392" width="8" height="1" fill="#000"/>
<rect x="185" y="386" width="8" height="6" fill="#000"/>
<rect x="186" y="387" width="6" height="4" fill="#fff"/>
<rect x="187" y="391" width="7" height="7" fill="#000"/>
<rect x="188" y="392" width="3" height="2" fill="#fff"/>
<rect x="188" y="394" width="5" height="3" fill="#fff"/>
<rect x="41" y="385" width="141" height="11" rx="1.5" ry="1.5" fill="#000"/>
<rect x="42" y="386" width="1" height="5" fill="#fff"/>
<rect x="44.1" y="386" width="2.9" height="5" fill="#fff"/>
<rect x="45" y="392" width="1" height="3" fill="#fff"/>
<rect x="48.8107" y="386" width="2.9" height="5" fill="#fff"/>
<rect x="50" y="392" width="1" height="3" fill="#fff"/>
<rect x="53.5214" y="386" width="2.9" height="5" fill="#fff"/>
<rect x="55" y="392" width="1" height="3" fill="#fff"/>
<rect x="58.2321" y="386" width="2.9" height="5" fill="#fff"/>
<rect x="59" y="392" width="1" height="3" fill="#fff"/>
<rect x="62.9429" y="386" width="2.9" height="5" fill="#fff"/>
<rect x="64" y="392" width="1" height="3" fill="#fff"/>
<rect x="67.6536" y="386" width="2.9" height="5" fill="#fff"/>
<rect x="69" y="392" width="1" height="3" fill="#fff"/>
<rect x="72.3643" y="386" width="2.9" height="5" fill="#fff"/>
<rect x="73" y="392" width="1" height="3" fill="#fff"/>
<rect x="77.075" y="386" width="2.9" height="5" fill="#fff"/>
<rect x="78" y="392" width="1" height="3" fill="#fff"/>
<rect x="81.7857" y="386" width="2.9" height="5" fill="#fff"/>
<rect x="83" y="392" width="1" height="3" fill="#fff"/>
<rect x="86.4964" y="386" width="2.9" height="5" fill="#fff"/>
<rect x="87" y="392" width="1" height="3" fill="#fff"/>
<rect x="91.2071" y="386" width="2.9" height="5" fill="#fff"/>
<rect x="92" y="392" width="1" height="3" fill="#fff"/>
<rect x="95.9179" y="386" width="2.9" height="5" fill="#fff"/>
<rect x="97" y="392" width="1" height="3" fill="#fff"/>
<rect x="100.629" y="386" width="2.9" height="5" fill="#fff"/>
<rect x="102" y="392" width="1" height="3" fill="#fff"/>
<rect x="105.339" y="386" width="2.9" height="5" fill="#fff"/>
<rect x="106" y="392" width="1" height="3" fill="#fff"/>
<rect x="110.05" y="386" width="2.9" height="5" fill="#fff"/>
<rect x="111" y="392" width="1" height="3" fill="#fff"/>
<rect x="114.761" y="386" width="2.9" height="5" fill="#fff"/>
<rect x="116" y="392" width="1" height="3" fill="#fff"/>
<rect x="119.471" y="386" width="2.9" height="5" fill="#fff"/>
<rect x="120" y="392" width="1" height="3" fill="#fff"/>
<rect x="124.182" y="386" width="2.9" height="5" fill="#fff"/>
<rect x="125" y="392" width="1" height="3" fill="#fff"/>
<rect x="128.893" y="386" width="2.9" height="5" fill="#fff"/>
<rect x="130" y="392" width="1" height="3" fill="#fff"/>
<rect x="133.604" y="386" width="2.9" height="5" fill="#fff"/>
<rect x="135" y="392" width="1" height="3" fill="#fff"/>
<rect x="138.314" y="386" width="2.9" height="5" fill="#fff"/>
<rect x="139" y="392" width="1" height="3" fill="#fff"/>
<rect x="143.025" y="386" width="2.9" height="5" fill="#fff"/>
<rect x="144" y="392" width="1" height="3" fill="#fff"/>
<rect x="147.736" y="386" width="2.9" height="5" fill="#fff"/>
<rect x="149" y="392" width="1" height="3" fill="#fff"/>
<rect x="152.446" y="386" width="2.9" height="5" fill="#fff"/>
<rect x="153" y="392" width="1" height="3" fill="#fff"/>
<rect x="157.157" y="386" width="2.9" height="5" fill="#fff"/>
<rect x="158" y="392" width="1" height="3" fill="#fff"/>
<rect x="161.868" y="386" width="2.9" height="5" fill="#fff"/>
<rect x="163" y="392" width="1" height="3" fill="#fff"/>
<rect x="166.579" y="386" width="2.9" height="5" fill="#fff"/>
<rect x="168" y="392" width="1" height="3" fill="#fff"/>
<rect x="171.289" y="386" width="2.9" height="5" fill="#fff"/>
<rect x="172" y="392" width="1" height="3" fill="#fff"/>
<rect x="176" y="386" width="2.9" height="5" fill="#fff"/>
<rect x="177" y="392" width="1" height="3" fill="#fff"/>
<rect x="9" y="305" width="6" height="21" fill="#000"/>
<rect x="10" y="310" width="4" height="1" fill="#fff"/>
<rect x="10" y="314" width="4" height="1" fill="#fff"/>
<rect x="10" y="319" width="4" height="1" fill="#fff"/>
<rect x="10" y="324" width="4" height="1" fill="#fff"/>
<rect x="15" y="314" width="4" height="1" fill="#000"/>
<rect x="18" y="313" width="7" height="4" fill="#000"/>
<polygon points="22,313 28,309 28,320 22,317" fill="#000"/>
<rect x="27" y="308" width="32" height="12" fill="#000"/>
<rect x="28" y="309" width="30" height="10" fill="#fff"/>
<rect x="89" y="311" width="47" height="14" fill="#000"/>
<rect class="aa" x="90" y="312" width="45" height="12" rx="1.5" fill="#fff"/>
<rect x="89" y="344" width="47" height="13" fill="#000"/>
<rect class="aa" x="90" y="345" width="45" height="11" rx="1.5" fill="#fff"/>
<rect x="89" y="376" width="47" height="13" fill="#000"/>
<rect class="aa" x="90" y="377" width="45" height="11" rx="1.5" fill="#fff"/>
<rect class="aa" x="210" y="347" width="21" height="15" rx="3" ry="3" fill="#000"/>
<rect class="aa" x="212" y="349" width="17" height="11" rx="1" ry="1" fill="#fff"/>
<rect x="219" y="359" width="3" height="4" fill="#fff"/>
<rect x="217" y="362" width="2" height="1" fill="#000"/>
<rect x="222" y="362" width="2" height="1" fill="#000"/>
<rect x="218" y="363" width="5" height="2" fill="#000"/>
<rect x="220" y="363" width="1" height="1" fill="#fff"/>
<rect x="219" y="365" width="4" height="3" fill="#000"/>
<rect x="220" y="368" width="2" height="6" fill="#000"/>
<rect x="213" y="374" width="17" height="16" fill="#000"/>
<rect x="214" y="375" width="15" height="14" fill="#fff"/>
<rect x="215" y="376" width="13" height="13" fill="#000"/>
<rect x="219" y="376" width="1" height="13" fill="#fff"/>
<rect x="223" y="376" width="1" height="13" fill="#fff"/>
<rect class="aa" x="132" y="401" width="33" height="15" rx="3" ry="3" fill="#000"/>
<rect class="aa" x="134" y="403" width="29" height="11" rx="1" ry="1" fill="#fff"/>
<rect x="163" y="406" width="5" height="1" fill="#000"/>
<rect x="163" y="407" width="11" height="1" fill="#000"/>
<rect x="163" y="408" width="5" height="1" fill="#fff"/>
<rect x="168" y="408" width="9" height="1" fill="#000"/>
<rect x="163" y="409" width="3" height="1" fill="#fff"/>
<rect x="166" y="409" width="11" height="1" fill="#000"/>
<rect x="163" y="410" width="10" height="1" fill="#000"/>
<rect x="163" y="411" width="4" height="1" fill="#000"/>
<rect x="177" y="406" width="11" height="6" fill="#000"/>
<rect x="178" y="407" width="1" height="4" fill="#fff"/>
<rect x="182" y="407" width="1" height="4" fill="#fff"/>
<rect class="aa" x="480" y="363" width="33" height="15" rx="3" ry="3" fill="#000"/>
<rect class="aa" x="482" y="365" width="29" height="11" rx="1" ry="1" fill="#fff"/>
<rect x="511" y="368" width="5" height="1" fill="#000"/>
<rect x="511" y="369" width="11" height="1" fill="#000"/>
<rect x="511" y="370" width="5" height="1" fill="#fff"/>
<rect x="516" y="370" width="9" height="1" fill="#000"/>
<rect x="511" y="371" width="3" height="1" fill="#fff"/>
<rect x="514" y="371" width="11" height="1" fill="#000"/>
<rect x="511" y="372" width="10" height="1" fill="#000"/>
<rect x="511" y="373" width="4" height="1" fill="#000"/>
<rect x="525" y="368" width="15" height="5" fill="#000"/>
<rect x="527" y="370" width="2" height="2" fill="#fff"/>
<rect x="530" y="369" width="1" height="3" fill="#fff"/>
<g filter="url(#bw)">
<text x="60 66.35 72.4 78.15" y="30" font-size="11">P501</text>
<text x="27.85" y="138" font-size="11">2</text>
<text x="75.35 80.35 86.4 92.35" y="127" font-size="11">J505</text>
<text x="120.85" y="166" font-size="11">2</text>
<text x="169.35 174.35 180.15 186.4" y="161" font-size="11">J510</text>
<text x="477.35 482.35 488.4 494.35" y="65" font-size="11">J504</text>
<text x="511.85" y="56" font-size="11">2</text>
<text x="513.95 519.95 524.95 531 537.35" y="30" font-size="10">33869</text>
<text x="600.35 605.35 611.4 617.15" y="18" font-size="11">J501</text>
<text x="600.35 605.35 611.4 617.6" y="60" font-size="11">J503</text>
<text x="605.35 610.35 616.4 622.85" y="39" font-size="11">J502</text>
<text x="541.35 546.35 552.4 558.6" y="145" font-size="11">J506</text>
<text x="585.35 590.35 596.15 602.15" y="159" font-size="11">J511</text>
<text x="610.35 615.35 621.15 627.85" y="174" font-size="11">J512</text>
<text x="168 175 181.95" y="189" font-size="11">NPU</text>
<text x="404.15 411.95 418.15" y="218" font-size="11">SL1</text>
<text x="28 35.35 41.4 47.6" y="318" font-size="11">P506</text>
<text x="91.95 98.35 104 111 117 124.4" y="321" font-size="11">BANK 0</text>
<text x="91.95 98.35 104 111 117 124.15" y="353" font-size="11">BANK 1</text>
<text x="91.95 98.35 104 111 117 124.85" y="385" font-size="11">BANK 2</text>
<text x="214 220.15" y="358" font-size="11">P1</text>
<text x="136 142.35 148.4 154.6" y="412" font-size="11">P509</text>
<text x="484.35 489.35 495.15 501.6" y="374" font-size="11">J516</text>
</g>
</svg>
</body>
</html>
